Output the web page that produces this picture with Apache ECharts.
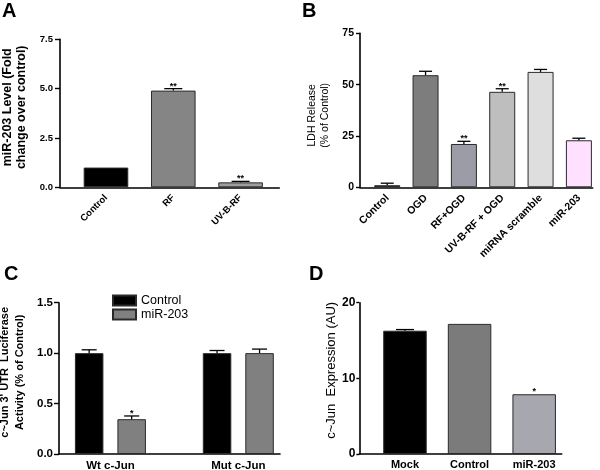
<!DOCTYPE html>
<html>
<head>
<meta charset="utf-8">
<script src="https://cdn.jsdelivr.net/npm/echarts@6/dist/echarts.min.js"></script>
<style>
html,body{margin:0;padding:0;background:#fff;}
#chart{width:600px;height:470px;}
</style>
</head>
<body>
<div id="chart"></div>
<script>
// ---------- Data ----------
// Panel A
const catsA = ['Control', 'RF', 'UV-B-RF'];
const valsA = [1.0, 4.9, 0.25];
const errA = [0, 0.1, 0.05];
const sigA = ['', '**', '**'];
const yTicksA = [0, 2.5, 5, 7.5];

// Panel B
const catsB = ['Control', 'OGD', 'RF+OGD', 'UV-B-RF + OGD', 'miRNA scramble', 'miR-203'];
const valsB = [1.0, 54.6, 21.1, 46.5, 56.2, 22.9];
const errB = [1.0, 1.9, 1.3, 1.5, 1.2, 1.0];
const sigB = ['', '', '**', '**', '', ''];
const yTicksB = [0, 25, 50, 75];

// Panel C
const groupsC = ['Wt c-Jun', 'Mut c-Jun'];
const seriesNamesC = ['Control', 'miR-203'];
const ctrlC = [1.0, 1.0];
const ctrlErrC = [0.033, 0.026];
const mirC = [0.345, 1.0];
const mirErrC = [0.032, 0.04];
const sigCtrlC = ['', ''];
const sigMirC = ['*', ''];
const yTicksC = [0, 0.5, 1.0, 1.5];

// Panel D
const catsD = ['Mock', 'Control', 'miR-203'];
const valsD = [16.3, 17.2, 7.9];
const errD = [0.15, 0, 0];
const sigD = ['', '', '*'];
const yTicksD = [0, 10, 20];

// ---------- Styles ----------
const FF = 'Liberation Sans, Arial, sans-serif';
const colorsA = ['#000000', '#858585', '#9e9e9e'];
const colorsB = ['#000000', '#7d7d7d', '#9c9ca6', '#bebebe', '#dedede', '#ffe0ff'];
const colorsC = ['#000000', '#808080'];
const colorsD = ['#000000', '#7b7b7b', '#a7a7af'];
const BORDER = '#2a2a2a';

function errRender(sig, pxOffset, capHalf, sigSize) {
  return function (params, api) {
    const x = api.value(0), y = api.value(1), e = api.value(2);
    const idx = params.dataIndex;
    const base = api.coord([x, y]);
    const top = api.coord([x, y + e]);
    const cx = base[0] + pxOffset;
    const children = [];
    if (e > 0) {
      children.push({type: 'line', shape: {x1: cx, y1: base[1], x2: cx, y2: top[1]},
        style: {stroke: '#000', lineWidth: 1.3}});
      children.push({type: 'line', shape: {x1: cx - capHalf, y1: top[1], x2: cx + capHalf, y2: top[1]},
        style: {stroke: '#000', lineWidth: 1.3}});
    }
    const s = sig[idx];
    if (s) {
      children.push({type: 'text', x: cx, y: top[1] + 2,
        style: {text: s, fill: '#000', fontSize: sigSize, fontWeight: 'bold', fontFamily: FF,
          align: 'center', verticalAlign: 'bottom'}});
    }
    return {type: 'group', children: children};
  };
}

function yAxisCfg(gi, ticks, fmt, fontSize, margin, tickLen, name, nameStyle, nameGap) {
  return {
    type: 'value', gridIndex: gi, min: ticks[0], max: ticks[ticks.length - 1],
    axisLine: {show: true, onZero: false, lineStyle: {color: '#000', width: 1.6}},
    axisTick: {show: true, length: tickLen, customValues: ticks, lineStyle: {color: '#000', width: 1.4}},
    axisLabel: {customValues: ticks, formatter: fmt, color: '#000', fontSize: fontSize,
      fontWeight: 'bold', fontFamily: FF, margin: margin},
    splitLine: {show: false},
    name: name, nameLocation: 'middle', nameGap: nameGap,
    nameTextStyle: Object.assign({color: '#000', fontFamily: FF}, nameStyle)
  };
}

// value x-axis carrying the bars (labels optional, horizontal only)
function xAxisCfg(gi, cats, min, max, showLabels, fontSize, margin) {
  return {
    type: 'value', gridIndex: gi, min: min, max: max,
    axisLine: {show: true, onZero: false, lineStyle: {color: '#000', width: 1.6}},
    axisTick: {show: false},
    splitLine: {show: false},
    axisLabel: {show: showLabels, customValues: cats.map((c, i) => i), formatter: v => cats[Math.round(v)] || '',
      color: '#000', fontSize: fontSize, fontWeight: 'bold', fontFamily: FF,
      margin: margin, hideOverlap: false}
  };
}

// category axis that only carries rotated labels, aligned to bar centres
function labelAxisCfg(gi, cats, fontSize) {
  return {
    type: 'category', gridIndex: gi, data: cats,
    axisLine: {show: false}, axisTick: {show: false}, splitLine: {show: false},
    axisLabel: {interval: 0, rotate: 45, color: '#000', fontSize: fontSize, fontWeight: 'bold',
      fontFamily: FF, margin: 9}
  };
}

const series = [];
// Panel A
series.push({type: 'bar', xAxisIndex: 0, yAxisIndex: 0, barWidth: 44.6,
  itemStyle: {borderColor: BORDER, borderWidth: 1},
  data: catsA.map((c, i) => ({value: [i, valsA[i]], itemStyle: {color: colorsA[i]}}))});
series.push({type: 'custom', xAxisIndex: 0, yAxisIndex: 0, z: 5, encode: {x: 0, y: 1},
  renderItem: errRender(sigA, 0, 9, 9),
  data: catsA.map((c, i) => [i, valsA[i], errA[i]])});
// Panel B
series.push({type: 'bar', xAxisIndex: 1, yAxisIndex: 1, barWidth: 26,
  itemStyle: {borderColor: BORDER, borderWidth: 1},
  data: catsB.map((c, i) => ({value: [i, valsB[i]], itemStyle: {color: colorsB[i]}}))});
series.push({type: 'custom', xAxisIndex: 1, yAxisIndex: 1, z: 5, encode: {x: 0, y: 1},
  renderItem: errRender(sigB, 0, 6.5, 9),
  data: catsB.map((c, i) => [i, valsB[i], errB[i]])});
// Panel C
const C_BAR_W = 28.5, C_GAP = 14;
const cOff = (C_BAR_W + C_GAP) / 2;
series.push({type: 'bar', name: seriesNamesC[0], xAxisIndex: 2, yAxisIndex: 2, barWidth: C_BAR_W,
  barGap: (C_GAP / C_BAR_W * 100) + '%',
  itemStyle: {color: colorsC[0], borderColor: BORDER, borderWidth: 1},
  data: groupsC.map((g, i) => [i, ctrlC[i]])});
series.push({type: 'bar', name: seriesNamesC[1], xAxisIndex: 2, yAxisIndex: 2, barWidth: C_BAR_W,
  barGap: (C_GAP / C_BAR_W * 100) + '%',
  itemStyle: {color: colorsC[1], borderColor: BORDER, borderWidth: 1},
  data: groupsC.map((g, i) => [i, mirC[i]])});
series.push({type: 'custom', xAxisIndex: 2, yAxisIndex: 2, z: 5, encode: {x: 0, y: 1},
  renderItem: errRender(sigCtrlC, -cOff, 7.5, 9),
  data: groupsC.map((g, i) => [i, ctrlC[i], ctrlErrC[i]])});
series.push({type: 'custom', xAxisIndex: 2, yAxisIndex: 2, z: 5, encode: {x: 0, y: 1},
  renderItem: errRender(sigMirC, cOff, 7.5, 9),
  data: groupsC.map((g, i) => [i, mirC[i], mirErrC[i]])});
// Panel D
series.push({type: 'bar', xAxisIndex: 3, yAxisIndex: 3, barWidth: 43.5,
  itemStyle: {borderColor: BORDER, borderWidth: 1},
  data: catsD.map((c, i) => ({value: [i, valsD[i]], itemStyle: {color: colorsD[i]}}))});
series.push({type: 'custom', xAxisIndex: 3, yAxisIndex: 3, z: 5, encode: {x: 0, y: 1},
  renderItem: errRender(sigD, 0, 9, 9),
  data: catsD.map((c, i) => [i, valsD[i], errD[i]])});

const titleStyle = {color: '#000', fontSize: 20, fontWeight: 'bold', fontFamily: FF};

// bar-centre spacing (px) used to align the label-only category grids
const A_C0 = 106, A_STEP = 67.3;
const B_C0 = 387.4, B_STEP = 38.35;

const option = {
  animation: false,
  backgroundColor: '#fff',
  textStyle: {fontFamily: FF},
  title: [
    {text: 'A', left: 2, top: 1, padding: 0, textStyle: titleStyle},
    {text: 'B', left: 302, top: 1, padding: 0, textStyle: titleStyle},
    {text: 'C', left: 4, top: 264, padding: 0, textStyle: titleStyle},
    {text: 'D', left: 309, top: 264, padding: 0, textStyle: titleStyle}
  ],
  legend: {
    data: seriesNamesC, left: 112, top: 294, orient: 'vertical', icon: 'rect',
    itemWidth: 23, itemHeight: 10, itemGap: 1, padding: 0,
    textStyle: {color: '#000', fontSize: 12.5, fontFamily: FF, lineHeight: 11}
  },
  grid: [
    {left: 60, top: 39.3, width: 219.3, height: 148, outerBoundsMode: 'none'},
    {left: 360, top: 33.3, width: 232.7, height: 154, outerBoundsMode: 'none'},
    {left: 59, top: 302.7, width: 221, height: 151.3, outerBoundsMode: 'none'},
    {left: 359.3, top: 302.7, width: 202.4, height: 151.3, outerBoundsMode: 'none'},
    {left: A_C0 - A_STEP / 2, top: 39.3, width: A_STEP * catsA.length, height: 148, outerBoundsMode: 'none'},
    {left: B_C0 - B_STEP / 2, top: 33.3, width: B_STEP * catsB.length, height: 154, outerBoundsMode: 'none'}
  ],
  xAxis: [
    xAxisCfg(0, catsA, -0.683, 2.575, false, 10, 9),
    xAxisCfg(1, catsB, -0.71, 5.36, false, 10, 9),
    xAxisCfg(2, groupsC, -0.402, 1.326, true, 11.5, 6),
    xAxisCfg(3, catsD, -0.707, 2.426, true, 11, 5),
    labelAxisCfg(4, catsA, 9.5),
    labelAxisCfg(5, catsB, 10.5)
  ],
  yAxis: [
    yAxisCfg(0, yTicksA, v => v.toFixed(1), 9.5, 7, 5,
      'miR-203 Level (Fold\nchange over control)',
      {fontSize: 12.5, fontWeight: 'bold', lineHeight: 14, padding: [0, 0, 0, 12]}, 31),
    yAxisCfg(1, yTicksB, v => String(v), 10.5, 6, 4,
      'LDH Release\n(% of Control)',
      {fontSize: 10.5, lineHeight: 13, padding: [0, 10, 0, 0]}, 28),
    yAxisCfg(2, yTicksC, v => v.toFixed(1), 11.5, 6, 5,
      "c~Jun 3' UTR  Luciferase\nActivity (% of Control)",
      {fontSize: 11, fontWeight: 'bold', lineHeight: 14.5, padding: [0, 0, 0, 12]}, 32),
    yAxisCfg(3, yTicksD, v => String(v), 12, 4, 3,
      'c~Jun  Expression (AU)',
      {fontSize: 13, padding: [0, 0, 0, 16]}, 19),
    {type: 'value', gridIndex: 4, show: false, min: yTicksA[0], max: yTicksA[yTicksA.length - 1]},
    {type: 'value', gridIndex: 5, show: false, min: yTicksB[0], max: yTicksB[yTicksB.length - 1]}
  ],
  series: series
};

const chart = echarts.init(document.getElementById('chart'), null, {renderer: 'canvas'});
chart.setOption(option);
</script>
</body>
</html>
